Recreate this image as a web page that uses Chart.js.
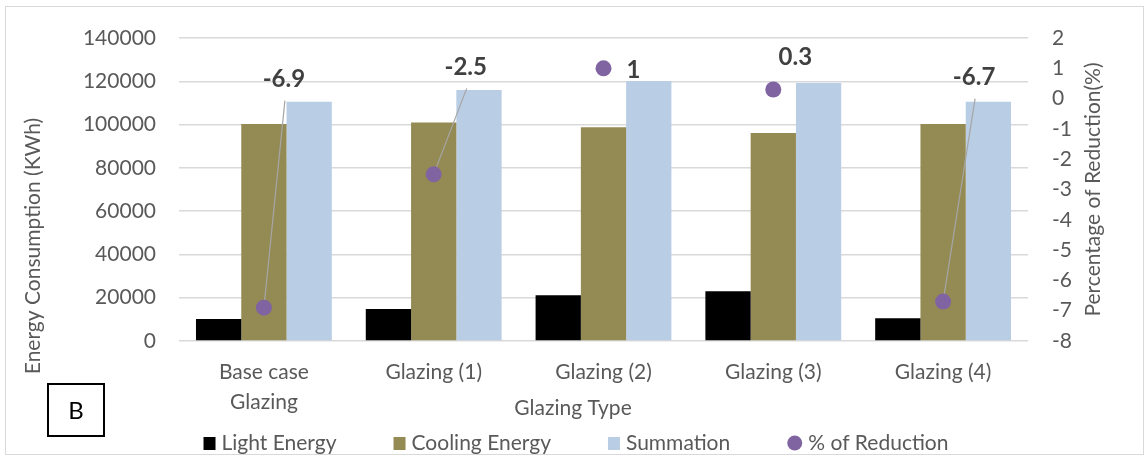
<!DOCTYPE html>
<html>
<head>
<meta charset="utf-8">
<script src="https://cdn.jsdelivr.net/npm/chart.js@4"></script>
<style>
  html, body { margin: 0; padding: 0; background: #fff; }
  #wrap { width: 1146px; height: 457px; overflow: hidden; }
</style>
</head>
<body>
<div id="wrap"><canvas id="energyChart" width="1146" height="457"></canvas></div>
<script>
// Values
const glazingTypes = [['Base case', 'Glazing'], 'Glazing (1)', 'Glazing (2)', 'Glazing (3)', 'Glazing (4)'];
const lightEnergy = [10200, 14800, 21100, 23000, 10500];
const coolingEnergy = [100300, 101000, 98800, 96100, 100300];
const summation = [110500, 116000, 120100, 119200, 110500];
const reductionPct = [-6.9, -2.5, 1, 0.3, -6.7];

const energyTicks = { min: 0, max: 140000, step: 20000 };
const pctTicks = { min: -8, max: 2, step: 1 };

const fontFamily = 'Lato, "Open Sans", sans-serif';
const textGray = '#595959';
const fontSize = 21;

// where each "% of Reduction" label sits relative to its point (pixels)
const labelPlacement = [
  { dx: 20, dy: -228, leader: true },
  { dx: 32, dy: -107, leader: true },
  { dx: 30, dy: 2, leader: false },
  { dx: 22, dy: -32, leader: false },
  { dx: 31, dy: -224, leader: true }
];

// bottom legend, drawn by hand so the wide item spacing fits
function drawLegend(chart) {
  const ctx = chart.ctx;
  const gap = 57, boxGap = 6, box = 12, y = 443;
  ctx.save();
  ctx.font = fontSize + 'px ' + fontFamily;
  ctx.textAlign = 'left';
  ctx.textBaseline = 'middle';
  const items = chart.data.datasets.map(ds => ({
    text: ds.label,
    color: ds.backgroundColor,
    circle: ds.type === 'line'
  }));
  const widths = items.map(it => box + boxGap + ctx.measureText(it.text).width + (it.circle ? 3 : 0));
  const total = widths.reduce((a, b) => a + b, 0) + gap * (items.length - 1);
  let x = chart.width / 2 + 3 - total / 2;
  items.forEach((it, i) => {
    ctx.fillStyle = it.color;
    if (it.circle) {
      ctx.beginPath();
      ctx.arc(x + 7.5, y, 7.5, 0, Math.PI * 2);
      ctx.fill();
      ctx.fillStyle = textGray;
      ctx.fillText(it.text, x + 15 + boxGap, y);
    } else {
      ctx.fillRect(x, y - 6, box, 13);
      ctx.fillStyle = textGray;
      ctx.fillText(it.text, x + box + boxGap, y);
    }
    x += widths[i] + gap;
  });
  ctx.restore();
}

const decorations = {
  id: 'decorations',
  beforeDraw(chart) {
    const ctx = chart.ctx;
    ctx.save();
    ctx.fillStyle = '#fff';
    ctx.fillRect(0, 0, chart.width, chart.height);
    ctx.strokeStyle = '#d9d9d9';
    ctx.lineWidth = 1;
    ctx.strokeRect(5.5, 6.5, 1138, 448);
    ctx.restore();
  },
  beforeDatasetDraw(chart, args) {
    if (args.index !== 3) return;
    const ctx = chart.ctx;
    const pts = chart.getDatasetMeta(3).data;
    ctx.save();
    ctx.strokeStyle = '#a6a6a6';
    ctx.lineWidth = 1.2;
    pts.forEach((p, i) => {
      const pl = labelPlacement[i];
      if (!pl.leader) return;
      ctx.beginPath();
      ctx.moveTo(p.x + pl.dx + 1, p.y + pl.dy + 21);
      ctx.lineTo(p.x, p.y);
      ctx.stroke();
    });
    ctx.restore();
  },
  afterDraw(chart) {
    const ctx = chart.ctx;
    const area = chart.chartArea;
    const pts = chart.getDatasetMeta(3).data;
    ctx.save();
    ctx.textAlign = 'center';
    ctx.textBaseline = 'middle';

    // data labels
    ctx.font = 'bold 24px ' + fontFamily;
    ctx.fillStyle = '#404040';
    pts.forEach((p, i) => {
      const pl = labelPlacement[i];
      ctx.fillText(String(reductionPct[i]), p.x + pl.dx, p.y + pl.dy);
    });

    // axis titles
    ctx.font = fontSize + 'px ' + fontFamily;
    ctx.fillStyle = textGray;
    ctx.fillText('Glazing Type', chart.width / 2, 408);

    ctx.save();
    ctx.translate(33, 246);
    ctx.rotate(-Math.PI / 2);
    ctx.fillText('Energy Consumption (KWh)', 0, 0);
    ctx.restore();

    ctx.save();
    ctx.translate(1093, (area.top + area.bottom) / 2);
    ctx.rotate(-Math.PI / 2);
    ctx.fillText('Percentage of Reduction(%)', 0, 0);
    ctx.restore();

    // panel letter
    ctx.strokeStyle = '#000';
    ctx.lineWidth = 2;
    ctx.strokeRect(48, 384, 56, 52);
    ctx.fillStyle = '#000';
    ctx.font = '24px ' + fontFamily;
    ctx.fillText('B', 76, 411);
    ctx.restore();

    drawLegend(chart);
  }
};

const ctx = document.getElementById('energyChart').getContext('2d');

new Chart(ctx, {
  data: {
    labels: glazingTypes,
    datasets: [
      { type: 'bar', label: 'Light Energy', data: lightEnergy, backgroundColor: '#000000', yAxisID: 'y', order: 1 },
      { type: 'bar', label: 'Cooling Energy', data: coolingEnergy, backgroundColor: '#948a54', yAxisID: 'y', order: 1 },
      { type: 'bar', label: 'Summation', data: summation, backgroundColor: '#b9cde5', yAxisID: 'y', order: 1 },
      {
        type: 'line', label: '% of Reduction', data: reductionPct, yAxisID: 'y1', order: 0,
        showLine: false, backgroundColor: '#8064a2', borderColor: '#8064a2', borderWidth: 0,
        pointRadius: 8, pointHoverRadius: 8, pointBorderWidth: 0
      }
    ]
  },
  options: {
    responsive: false,
    animation: false,
    devicePixelRatio: 1,
    layout: { padding: { left: 0, right: 0, top: 38, bottom: 0 } },
    datasets: {
      bar: { categoryPercentage: 0.8, barPercentage: 1.0 }
    },
    plugins: {
      tooltip: { enabled: false },
      legend: { display: false }
    },
    scales: {
      x: {
        offset: true,
        grid: { display: false, drawTicks: false },
        border: { display: false },
        ticks: {
          color: textGray, padding: 16, maxRotation: 0, autoSkip: false,
          font: { family: fontFamily, size: fontSize, lineHeight: 1.45 }
        },
        afterFit(scale) {
          scale.height = scale.chart.height - 341;
        }
      },
      y: {
        position: 'left',
        min: energyTicks.min, max: energyTicks.max,
        grid: { color: '#d9d9d9', lineWidth: 1.5, drawTicks: false },
        border: { display: false },
        ticks: {
          stepSize: energyTicks.step, padding: 23, color: textGray,
          font: { family: fontFamily, size: fontSize },
          callback: v => String(v)
        },
        afterFit(scale) { scale.width = 179; }
      },
      y1: {
        position: 'right',
        min: pctTicks.min, max: pctTicks.max,
        grid: { display: false, drawTicks: false },
        border: { display: false },
        ticks: {
          stepSize: pctTicks.step, padding: 24, color: textGray,
          font: { family: fontFamily, size: fontSize },
          callback: v => String(v)
        },
        afterFit(scale) { scale.width = 1146 - 1028; }
      }
    }
  },
  plugins: [decorations]
});
</script>
</body>
</html>
